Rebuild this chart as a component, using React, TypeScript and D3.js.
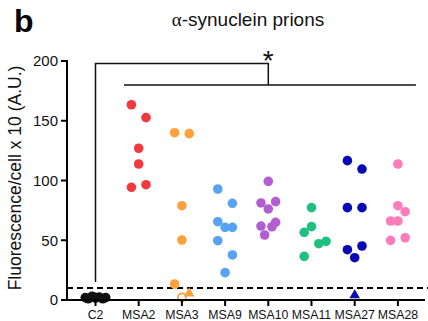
import React from "react";
import * as d3 from "d3";

// ── Data ──────────────────────────────────────────────────────
const GROUPS = ["C2", "MSA2", "MSA3", "MSA9", "MSA10", "MSA11", "MSA27", "MSA28"];
const COLORS = ["#111111", "#f2393d", "#ffa03c", "#58a2f2", "#b25ed2", "#1ebf80", "#0808b4", "#ff7cba"];

// filled circles per group, with a side-by-side slot (beeswarm column)
const VALUES: number[][] = [
  [2, 1, 3, 1.5, 2.5, 1, 2, 2.5],
  [163.4, 152.6, 127, 113.8, 94.3, 96.5],
  [140, 139.2, 78.9, 50.2, 13.4],
  [92.9, 80.9, 65.5, 60.8, 60.8, 49.6, 37.7, 22.9],
  [99.3, 81.2, 82.3, 76.2, 61.9, 65, 61.3, 54.4],
  [77.3, 61.4, 56.6, 47.1, 49.1, 36.5],
  [116.6, 109.6, 77.3, 77.3, 42.1, 45.2, 35.4],
  [113.8, 78.9, 73.9, 66.1, 66.1, 49.9, 52.1],
];
const SLOTS: number[][] = [
  [-1.4, -1, -0.5, 0, 0.5, 1, 1.4, -0.2],
  [-1, 1, 0, 0, -1, 1],
  [-1, 1, 0, 0, -1],
  [-1, 1, -1, 0, 1, -1, 1, 0],
  [0, -1, 1, 0, -1, 1, 0.5, -0.5],
  [0, 0, -1, 1, 2, -1],
  [-1, 1, -1, 1, -1, 1, 0],
  [0, 0, 1, -1, 0, -1, 1],
];
// open circles and triangles (values below detection)
const OPEN = [{ group: "MSA3", value: 2.2, slot: 0 }];
const TRIANGLES = [
  { group: "MSA3", value: 5.5, slot: 1 },
  { group: "MSA27", value: 4, slot: 0 },
];

const Y_TICKS = [0, 50, 100, 150, 200];
const THRESHOLD = 10;

// ── Geometry ──────────────────────────────────────────────────
const W = 428;
const H = 321;
const AXIS_X = 67;
const AXIS_Y = 300;
const SLOT = 7.3;
const R = 4.8;

export default function App() {
  const y = d3.scaleLinear().domain([0, 200]).range([AXIS_Y, 61]);
  const x = d3.scalePoint<string>().domain(GROUPS).range([95.5, 397.9]);
  const col = (g: string) => COLORS[GROUPS.indexOf(g)];
  const tri = d3.symbol().type(d3.symbolTriangle).size(48);

  const xC2 = x("C2") as number;
  const xMid = x("MSA10") as number;

  return (
    <div style={{ position: "fixed", left: 0, top: 0 }}>
      <svg width={W} height={H} style={{ display: "block", fontFamily: "Arial, 'Liberation Sans', sans-serif" }}>
        <rect width={W} height={H} fill="#fff" />

        {/* panel letter + title */}
        <text x={14} y={32} fontSize={32} fontWeight={700} fill="#000">b</text>
        <text x={248} y={26} fontSize={19} textAnchor="middle" fill="#111">
          <tspan fontFamily="'Liberation Serif', 'DejaVu Serif', serif">α</tspan>-synuclein prions
        </text>

        {/* y label */}
        <text
          transform={`translate(16,178) rotate(-90)`}
          textAnchor="middle"
          dominantBaseline="middle"
          fontSize={17.5}
          fill="#111"
        >
          Fluorescence/cell x 10 (A.U.)
        </text>

        {/* threshold */}
        <line x1={AXIS_X} x2={W} y1={y(THRESHOLD)} y2={y(THRESHOLD)} stroke="#000" strokeWidth={2} strokeDasharray="6,4" />

        {/* significance bracket */}
        <g stroke="#111" strokeWidth={1.5} fill="none">
          <path d={`M${xC2},${y(15)}V${y(198)}H${xMid}V${y(180)}`} />
          <line x1={(x("MSA2") as number) - 14.7} x2={(x("MSA28") as number) + 18} y1={y(180)} y2={y(180)} />
        </g>
        <text x={xMid} y={70} fontSize={28} textAnchor="middle" fill="#111">*</text>

        {/* points */}
        {GROUPS.map((g, gi) =>
          VALUES[gi].map((v, i) => (
            <circle
              key={`${g}-${i}`}
              cx={(x(g) as number) + SLOTS[gi][i] * SLOT}
              cy={y(v)}
              r={R}
              fill={COLORS[gi]}
            />
          ))
        )}
        {OPEN.map((p, i) => (
          <circle
            key={`o${i}`}
            cx={(x(p.group) as number) + p.slot * SLOT}
            cy={y(p.value)}
            r={4}
            fill="#fff"
            stroke={col(p.group)}
            strokeWidth={1.8}
          />
        ))}
        {TRIANGLES.map((p, i) => (
          <path
            key={`t${i}`}
            d={tri() ?? ""}
            transform={`translate(${(x(p.group) as number) + p.slot * SLOT},${y(p.value)})`}
            fill={col(p.group)}
          />
        ))}

        {/* y axis */}
        <line x1={AXIS_X} x2={AXIS_X} y1={y(200) - 1} y2={AXIS_Y + 1} stroke="#000" strokeWidth={2} />
        {Y_TICKS.map((t) => (
          <g key={t}>
            <line x1={AXIS_X - 6} x2={AXIS_X} y1={y(t)} y2={y(t)} stroke="#000" strokeWidth={2} />
            <text x={58} y={y(t)} dy="0.35em" fontSize={15} textAnchor="end" fill="#111">{t}</text>
          </g>
        ))}

        {/* x axis */}
        <line x1={AXIS_X - 1} x2={425} y1={AXIS_Y} y2={AXIS_Y} stroke="#000" strokeWidth={2} />
        {GROUPS.map((g) => (
          <g key={g}>
            <line x1={x(g)} x2={x(g)} y1={AXIS_Y} y2={AXIS_Y + 6} stroke="#000" strokeWidth={2} />
            <text x={x(g)} y={319} fontSize={12.3} textAnchor="middle" fill="#111">{g}</text>
          </g>
        ))}
      </svg>
    </div>
  );
}
